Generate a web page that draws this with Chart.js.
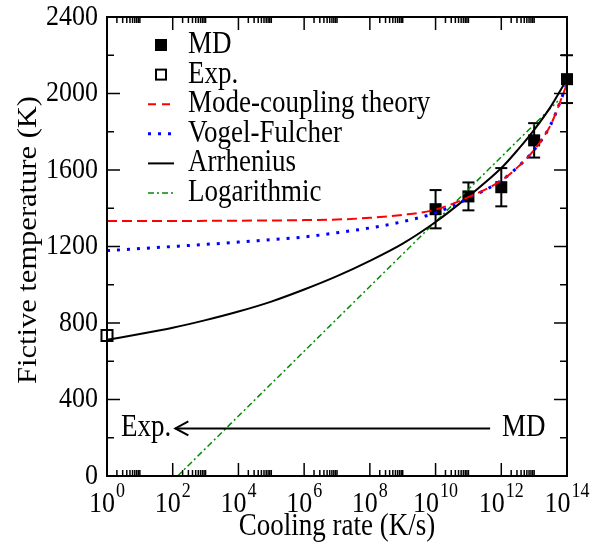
<!DOCTYPE html>
<html>
<head>
<meta charset="utf-8">
<script src="https://cdn.jsdelivr.net/npm/chart.js@4/dist/chart.umd.min.js"></script>
<style>
  body { margin: 0; background: #fff; }
  canvas { display: block; }
</style>
</head>
<body>
<canvas id="grafico" width="592" height="546"></canvas>
<script>
// cooling rate exponents for the fitted curves (rate = 10^exp)
const curveExp = [0, 1, 2, 3, 4, 5, 6, 7, 8, 9, 10, 11, 12, 12.5, 13, 13.5, 14];
const mctT = [1333, 1333, 1333, 1334, 1335, 1336, 1338, 1341, 1350, 1365, 1393, 1458, 1545, 1615, 1705, 1835, 2050];
const vfT = [1178, 1189, 1200, 1211, 1223, 1236, 1250, 1272, 1297, 1330, 1376, 1452, 1545, 1615, 1705, 1835, 2050];
const arrT = [712, 742, 775, 815, 860, 912, 975, 1045, 1125, 1215, 1328, 1462, 1610, 1705, 1810, 1930, 2075];
const logExp = [2.15, 13.72];
const logT = [0, 1960];

const mdRate = [1e10, 1e11, 1e12, 1e13, 1e14];
const mdT = [1395, 1462, 1510, 1755, 2075];
const mdErr = [100, 73, 100, 90, 125];
const expRate = [1];
const expT = [735];

const xTickExp = [0, 2, 4, 6, 8, 10, 12, 14];
const yTicks = [0, 400, 800, 1200, 1600, 2000, 2400];

const SY = 1.13;
const FONT = '"Liberation Serif", "Times New Roman", serif';

const xy = (xs, ys) => xs.map((x, i) => ({ x: x, y: ys[i] }));
const curveRate = curveExp.map(e => Math.pow(10, e));
const logRate = logExp.map(e => Math.pow(10, e));

function texto(ctx, s, x, y, size, align, base, rot) {
  ctx.save();
  ctx.translate(x, y);
  ctx.scale(1, SY);
  if (rot) ctx.rotate(-Math.PI / 2);
  ctx.font = size + "px " + FONT;
  ctx.textAlign = align;
  ctx.textBaseline = base;
  ctx.fillStyle = "#000";
  ctx.fillText(s, 0, 0);
  ctx.restore();
}

function linha(ctx, x1, y1, x2, y2) {
  ctx.beginPath();
  ctx.moveTo(x1, y1);
  ctx.lineTo(x2, y2);
  ctx.stroke();
}

const errorBars = {
  id: "errorBars",
  beforeDatasetsDraw(chart) {
    const ctx = chart.ctx, sx = chart.scales.x, sy = chart.scales.y;
    ctx.save();
    ctx.strokeStyle = "#000";
    ctx.lineWidth = 2;
    mdRate.forEach((r, i) => {
      const px = sx.getPixelForValue(r);
      const top = sy.getPixelForValue(mdT[i] + mdErr[i]);
      const bot = sy.getPixelForValue(mdT[i] - mdErr[i]);
      linha(ctx, px, top, px, bot);
      linha(ctx, px - 6, top, px + 6, top);
      linha(ctx, px - 6, bot, px + 6, bot);
    });
    ctx.restore();
  }
};

const eixos = {
  id: "eixos",
  afterDraw(chart) {
    const ctx = chart.ctx, a = chart.chartArea;
    const sx = chart.scales.x, sy = chart.scales.y;
    ctx.save();
    ctx.strokeStyle = "#000";

    // ticks
    ctx.lineWidth = 1.5;
    xTickExp.forEach(e => {
      const px = sx.getPixelForValue(Math.pow(10, e));
      linha(ctx, px, a.bottom, px, a.bottom - 13);
      linha(ctx, px, a.top, px, a.top + 13);
      if (e < 14) {
        for (let m = 2; m <= 10; m++) {
          const mx = sx.getPixelForValue(m * Math.pow(10, e));
          linha(ctx, mx, a.bottom, mx, a.bottom - 6);
          linha(ctx, mx, a.top, mx, a.top + 6);
        }
      }
    });
    for (let v = 0; v <= 2400; v += 200) {
      const py = sy.getPixelForValue(v);
      const len = v % 400 === 0 ? 13 : 7;
      linha(ctx, a.left, py, a.left + len, py);
      linha(ctx, a.right, py, a.right - len, py);
    }

    // frame
    ctx.lineWidth = 2;
    ctx.strokeRect(a.left, a.top, a.right - a.left, a.bottom - a.top);

    // tick labels
    yTicks.forEach(v => {
      texto(ctx, String(v), a.left - 9, sy.getPixelForValue(v), 26, "right", "middle");
    });
    xTickExp.forEach(e => {
      const px = sx.getPixelForValue(Math.pow(10, e));
      ctx.font = "26px " + FONT;
      const w1 = ctx.measureText("10").width;
      ctx.font = "18px " + FONT;
      const w2 = ctx.measureText(String(e)).width;
      const x0 = px - (w1 + w2 + 1) / 2;
      texto(ctx, "10", x0, 512, 26, "left", "alphabetic");
      texto(ctx, String(e), x0 + w1 + 1, 497, 18, "left", "alphabetic");
    });

    // axis titles
    texto(ctx, "Cooling rate (K/s)", (a.left + a.right) / 2, 535, 27, "center", "alphabetic");
    texto(ctx, "Fictive temperature (K)", 36, 240, 27, "center", "alphabetic", true);

    // arrow Exp. <- MD
    const ay = sy.getPixelForValue(249);
    const ax1 = sx.getPixelForValue(Math.pow(10, 11.66));
    const ax2 = sx.getPixelForValue(Math.pow(10, 2.08));
    ctx.lineWidth = 2;
    linha(ctx, ax1, ay, ax2, ay);
    ctx.beginPath();
    ctx.moveTo(ax2 + 13, ay - 7);
    ctx.lineTo(ax2, ay);
    ctx.lineTo(ax2 + 13, ay + 7);
    ctx.stroke();
    texto(ctx, "Exp.", ax2 - 4, ay, 27, "right", "middle");
    texto(ctx, "MD", ax1 + 12, ay, 27, "left", "middle");

    // legend
    const lx = 161, tx = 188;
    const rows = [45, 74.6, 104.2, 133.8, 163.4, 193];
    ctx.fillStyle = "#000";
    ctx.fillRect(lx - 6, rows[0] - 6, 12, 12);
    ctx.lineWidth = 2;
    ctx.strokeRect(lx - 5, rows[1] - 5, 10, 10);
    const estilos = [
      ["#ff0000", [8, 6], 2],
      ["#0000ff", [3, 7], 3],
      ["#000000", [], 2],
      ["#008b00", [6, 3, 2, 3], 1.5]
    ];
    estilos.forEach((s, i) => {
      ctx.strokeStyle = s[0];
      ctx.setLineDash(s[1]);
      ctx.lineWidth = s[2];
      linha(ctx, 148, rows[i + 2], 174, rows[i + 2]);
    });
    ctx.setLineDash([]);
    const nomes = ["MD", "Exp.", "Mode-coupling theory", "Vogel-Fulcher", "Arrhenius", "Logarithmic"];
    nomes.forEach((n, i) => texto(ctx, n, tx, rows[i], 27, "left", "middle"));

    ctx.restore();
  }
};

const ctx = document.getElementById("grafico").getContext("2d");
const grafico = new Chart(ctx, {
  type: "scatter",
  data: {
    datasets: [
      {
        label: "Mode-coupling theory",
        data: xy(curveRate, mctT),
        showLine: true,
        borderColor: "#ff0000",
        borderDash: [10, 5],
        borderWidth: 2,
        pointRadius: 0,
        cubicInterpolationMode: "monotone",
        clip: false
      },
      {
        label: "Vogel-Fulcher",
        data: xy(curveRate, vfT),
        showLine: true,
        borderColor: "#0000ff",
        borderDash: [3, 7],
        borderWidth: 3,
        pointRadius: 0,
        cubicInterpolationMode: "monotone",
        clip: false
      },
      {
        label: "Arrhenius",
        data: xy(curveRate, arrT),
        showLine: true,
        borderColor: "#000000",
        borderWidth: 2,
        pointRadius: 0,
        cubicInterpolationMode: "monotone",
        clip: false
      },
      {
        label: "Logarithmic",
        data: xy(logRate, logT),
        showLine: true,
        borderColor: "#008b00",
        borderDash: [6, 3, 2, 3],
        borderWidth: 1.5,
        pointRadius: 0,
        clip: false
      },
      {
        label: "Exp.",
        data: xy(expRate, expT),
        pointStyle: "rect",
        pointRadius: 7.8,
        backgroundColor: "#ffffff",
        borderColor: "#000000",
        borderWidth: 2,
        clip: false
      },
      {
        label: "MD",
        data: xy(mdRate, mdT),
        pointStyle: "rect",
        pointRadius: 8.5,
        backgroundColor: "#000000",
        borderColor: "#000000",
        borderWidth: 0,
        clip: false
      }
    ]
  },
  options: {
    responsive: false,
    animation: false,
    events: [],
    layout: { padding: { left: 107, right: 25, top: 17, bottom: 70 } },
    scales: {
      x: { type: "logarithmic", min: 1, max: 1e14, display: false },
      y: { type: "linear", min: 0, max: 2400, display: false }
    },
    plugins: {
      legend: { display: false },
      tooltip: { enabled: false }
    }
  },
  plugins: [errorBars, eixos]
});
</script>
</body>
</html>
